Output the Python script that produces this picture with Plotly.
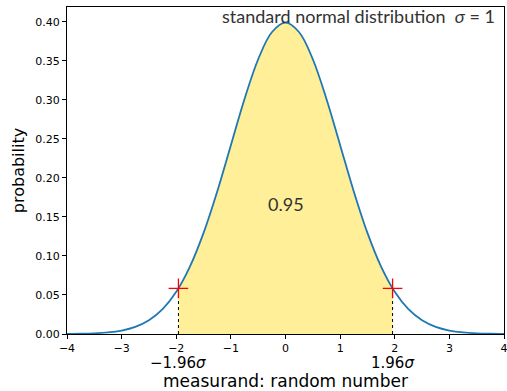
import plotly.graph_objects as go

# curve (standard normal density)
curve_x = [-4.0, -3.75, -3.5, -3.25, -3.0, -2.75, -2.5, -2.25, -2.0, -1.75, -1.5, -1.25, -1.0,
           -0.75, -0.5, -0.25, 0.0, 0.25, 0.5, 0.75, 1.0, 1.25, 1.5, 1.75, 2.0, 2.25, 2.5,
           2.75, 3.0, 3.25, 3.5, 3.75, 4.0]
curve_y = [0.00013, 0.00035, 0.00087, 0.00203, 0.00443, 0.00909, 0.01753, 0.03174, 0.05399,
           0.08628, 0.12952, 0.18265, 0.24197, 0.30114, 0.35207, 0.38667, 0.39894, 0.38667,
           0.35207, 0.30114, 0.24197, 0.18265, 0.12952, 0.08628, 0.05399, 0.03174, 0.01753,
           0.00909, 0.00443, 0.00203, 0.00087, 0.00035, 0.00013]

bound_x = [-1.96, 1.96]
bound_y = [0.05844, 0.05844]
area_label = "0.95"
area_pos = [0.0, 0.166]
bound_labels = ["−1.96<i>σ</i>", "1.96<i>σ</i>"]
x_ticks = [-4, -3, -2, -1, 0, 1, 2, 3, 4]
y_ticks = [0.0, 0.05, 0.10, 0.15, 0.20, 0.25, 0.30, 0.35, 0.40]

fill_x = [bound_x[0]] + [x for x in curve_x if bound_x[0] < x < bound_x[1]] + [bound_x[1]]
fill_y = [bound_y[0]] + [y for x, y in zip(curve_x, curve_y) if bound_x[0] < x < bound_x[1]] + [bound_y[1]]

fig = go.Figure()
fig.add_trace(go.Scatter(x=fill_x, y=fill_y, mode="lines", line=dict(width=0, shape="spline"),
                         fill="tozeroy", fillcolor="rgba(255,215,0,0.4)", hoverinfo="skip",
                         showlegend=False))
fig.add_trace(go.Scatter(x=curve_x, y=curve_y, mode="lines",
                         line=dict(color="#1f77b4", width=1.8, shape="spline"), showlegend=False))
for bx, by in zip(bound_x, bound_y):
    fig.add_trace(go.Scatter(x=[bx, bx], y=[0, by], mode="lines",
                             line=dict(color="black", width=1, dash="dot"), showlegend=False))
fig.add_trace(go.Scatter(x=bound_x, y=bound_y, mode="markers",
                         marker=dict(symbol="cross-thin", size=14, line=dict(color="red", width=1.3)),
                         showlegend=False))

fig.add_annotation(x=area_pos[0], y=area_pos[1], text=area_label, showarrow=False,
                   font=dict(family="Lato", size=18, color="#333"))
fig.add_annotation(x=0.985, y=0.973, xref="paper", yref="paper", xanchor="right", yanchor="middle",
                   text="standard normal distribution  <i>σ</i> = 1",
                   showarrow=False, font=dict(family="Lato", size=18, color="#333"))
for bx, lab in zip(bound_x, bound_labels):
    fig.add_annotation(x=bx, y=-0.088, xref="x", yref="paper", text=lab, showarrow=False,
                       yanchor="middle", borderpad=0,
                       font=dict(family="DejaVu Sans", size=15, color="black"))

axis_common = dict(showline=True, linecolor="black", linewidth=1, mirror=True, ticks="outside",
                   ticklen=4, tickcolor="black", showgrid=False, zeroline=False, automargin=False,
                   ticklabeloverflow="allow",
                   tickfont=dict(family="DejaVu Sans", size=11, color="black"))
fig.update_xaxes(range=[-4, 4], tickvals=x_ticks, **axis_common,
                 title=dict(text="measurand: random number", standoff=33,
                            font=dict(family="DejaVu Sans", size=17, color="black")))
fig.update_yaxes(range=[0, 0.419], tickvals=y_ticks, tickformat=".2f", **axis_common,
                 title=dict(text="probability", standoff=6,
                            font=dict(family="DejaVu Sans", size=16, color="black")))
fig.update_layout(width=507, height=391, margin=dict(l=67, r=3, t=7, b=57),
                  plot_bgcolor="white", paper_bgcolor="white")
fig.write_html("out.html")
